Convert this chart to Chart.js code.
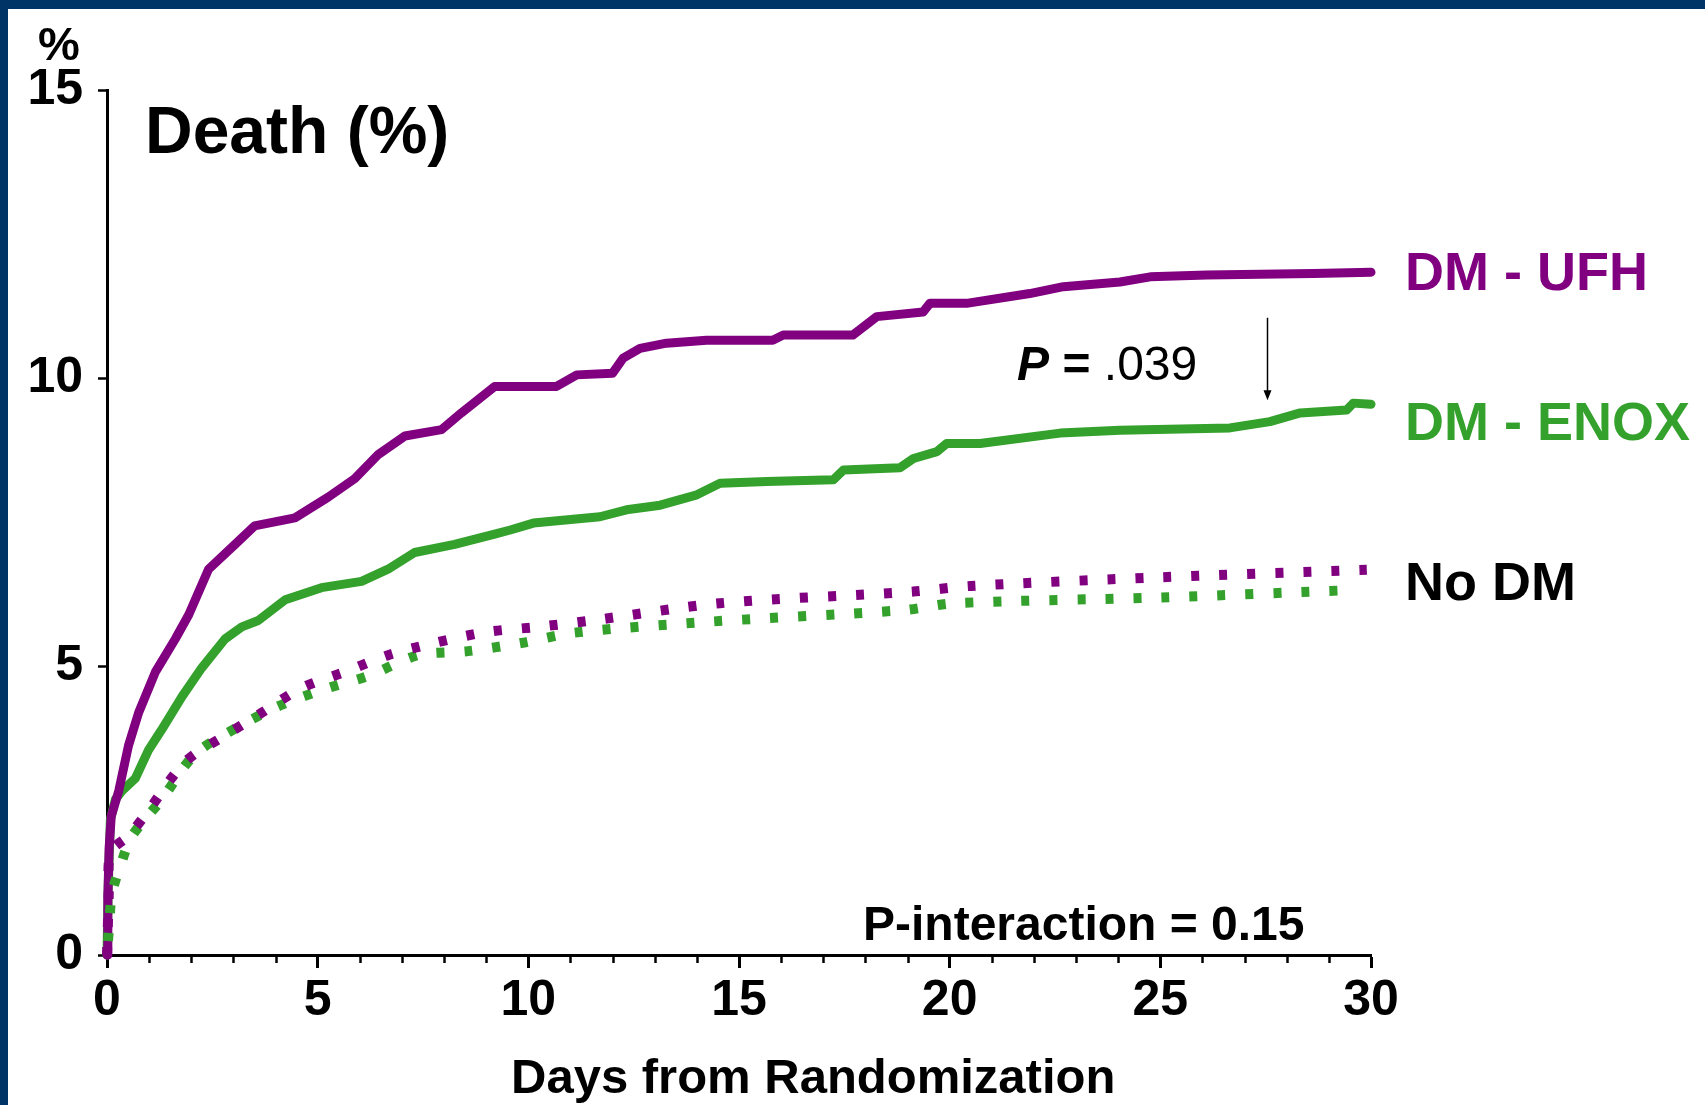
<!DOCTYPE html>
<html>
<head>
<meta charset="utf-8">
<script src="https://cdn.jsdelivr.net/npm/chart.js@4/dist/chart.umd.min.js"></script>
<style>
  html, body { margin: 0; padding: 0; }
  body { width: 1705px; height: 1105px; background: #003366; position: relative; overflow: hidden; }
  #panel { position: absolute; left: 8px; top: 9px; right: 0; bottom: 0; background: #fff; }
  #chart { position: absolute; left: 0; top: 0; }
</style>
</head>
<body>
<div id="panel"></div>
<canvas id="chart" width="1705" height="1105"></canvas>
<script>
// Kaplan-Meier style curves: [day, % dead]
const dmUfh = [
    [0, 0], [0.02, 1.0], [0.05, 1.85], [0.1, 2.4], [0.28, 2.85], [0.51, 3.63], [0.75, 4.2],
    [1.15, 4.91], [1.62, 5.48], [1.94, 5.9], [2.41, 6.69], [3.04, 7.12], [3.5, 7.44], [4.46, 7.58],
    [5.25, 7.94], [5.88, 8.26], [6.44, 8.68], [7.07, 9.0], [7.94, 9.11], [8.41, 9.4], [9.2, 9.86],
    [10.67, 9.86], [11.15, 10.06], [12.0, 10.09], [12.25, 10.35], [12.65, 10.52], [13.28, 10.61],
    [14.23, 10.66], [15.8, 10.66], [16.05, 10.75], [17.7, 10.75], [18.27, 11.07], [19.37, 11.15],
    [19.53, 11.3], [20.4, 11.3], [21.9, 11.47], [22.7, 11.59], [24.04, 11.67], [24.76, 11.76],
    [26.1, 11.79], [28.63, 11.82], [30, 11.84]
];
const dmEnox = [
    [0, 0], [0.03, 1.2], [0.08, 2.35], [0.2, 2.7], [0.36, 2.85], [0.67, 3.06], [0.99, 3.56],
    [1.3, 3.91], [1.78, 4.48], [2.25, 4.98], [2.8, 5.48], [3.2, 5.69], [3.59, 5.8], [4.23, 6.16],
    [5.09, 6.37], [6.04, 6.48], [6.67, 6.69], [7.3, 6.98], [8.25, 7.12], [9.2, 7.3], [9.57, 7.37],
    [10.12, 7.49], [11.7, 7.6], [12.33, 7.72], [13.13, 7.8], [14.0, 7.98], [14.55, 8.18],
    [15.66, 8.21], [17.24, 8.24], [17.48, 8.41], [18.82, 8.45], [19.14, 8.61], [19.7, 8.73],
    [19.93, 8.87], [20.72, 8.87], [22.62, 9.05], [24.04, 9.1], [26.65, 9.14], [27.6, 9.25],
    [28.32, 9.4], [29.42, 9.45], [29.58, 9.57], [30, 9.55]
];
const noDmUfh = [
    [0, 0], [0.04, 1.0], [0.08, 1.78], [0.5, 2.06], [0.9, 2.42], [1.86, 3.35], [2.88, 3.84],
    [3.67, 4.2], [4.62, 4.63], [5.65, 4.91], [6.67, 5.2], [7.77, 5.41], [9.0, 5.6], [10.23, 5.69],
    [11.5, 5.8], [14.55, 6.1], [19.1, 6.3], [20.5, 6.4], [25, 6.55], [29.9, 6.68]
];
const noDmEnox = [
    [0, 0], [0.05, 0.5], [0.12, 1.07], [0.36, 1.64], [0.59, 2.06], [1.3, 2.7], [2.1, 3.49],
    [3.2, 3.99], [4.15, 4.34], [5.25, 4.63], [6.2, 4.84], [7.39, 5.2], [8.57, 5.27], [9.83, 5.41],
    [11.1, 5.59], [14.3, 5.78], [18.9, 5.98], [20.1, 6.1], [25, 6.2], [29.6, 6.33]
];

const xTicks = [0, 5, 10, 15, 20, 25, 30];
const yTicks = [0, 5, 10, 15];
const seriesLabels = ['DM - UFH', 'DM - ENOX', 'No DM'];

const PURPLE = '#800080';
const GREEN = '#33a12b';
const FONT = '"Liberation Sans", Arial, sans-serif';

function toXY(arr) {
    return arr.map(p => ({ x: p[0], y: p[1] }));
}

// text, arrow and minor ticks drawn over the chart
const overlay = {
    id: 'overlay',
    afterDraw(chart) {
        const ctx = chart.ctx;
        const xs = chart.scales.x;
        const ys = chart.scales.y;
        const area = chart.chartArea;
        ctx.save();

        // minor day ticks
        ctx.strokeStyle = '#000';
        ctx.lineWidth = 2.5;
        for (let d = 1; d < 30; d++) {
            if (d % 5 === 0) continue;
            const px = Math.round(xs.getPixelForValue(d)) + 0.5;
            ctx.beginPath();
            ctx.moveTo(px, area.bottom);
            ctx.lineTo(px, area.bottom + 8);
            ctx.stroke();
        }

        ctx.textBaseline = 'alphabetic';
        ctx.fillStyle = '#000';

        // "%" over the y tick labels
        ctx.font = 'bold 47px ' + FONT;
        ctx.textAlign = 'center';
        ctx.fillText('%', 59, 60);

        // panel title
        ctx.textAlign = 'left';
        ctx.font = 'bold 66px ' + FONT;
        ctx.fillText('Death (%)', 145, 153);

        // series labels at the right end of the curves
        ctx.font = 'bold 54px ' + FONT;
        const lx = area.right + 34;
        ctx.fillStyle = PURPLE;
        ctx.fillText(seriesLabels[0], lx, 290);
        ctx.fillStyle = GREEN;
        ctx.fillText(seriesLabels[1], lx, 440);
        ctx.fillStyle = '#000';
        ctx.fillText(seriesLabels[2], lx, 600);

        // P value between DM curves
        let px = xs.getPixelForValue(21.6);
        const py = ys.getPixelForValue(9.97);
        ctx.font = 'italic bold 48px ' + FONT;
        ctx.fillText('P', px, py);
        px += ctx.measureText('P ').width;
        ctx.font = 'bold 48px ' + FONT;
        ctx.fillText('=', px, py);
        px += ctx.measureText('= ').width;
        ctx.font = '48px ' + FONT;
        ctx.fillText('.039', px, py);

        // arrow
        const ax = Math.round(xs.getPixelForValue(27.53)) + 0.5;
        const ay1 = ys.getPixelForValue(11.05);
        const ay2 = ys.getPixelForValue(9.62);
        ctx.lineWidth = 1.5;
        ctx.beginPath();
        ctx.moveTo(ax, ay1);
        ctx.lineTo(ax, ay2 - 8);
        ctx.stroke();
        ctx.beginPath();
        ctx.moveTo(ax - 4, ay2 - 10);
        ctx.lineTo(ax + 4, ay2 - 10);
        ctx.lineTo(ax, ay2);
        ctx.closePath();
        ctx.fill();

        // interaction p
        ctx.font = 'bold 48px ' + FONT;
        ctx.fillText('P-interaction = 0.15', 863, 940);

        // x axis title
        ctx.font = 'bold 49px ' + FONT;
        ctx.fillText('Days from Randomization', 511, 1093);

        ctx.restore();
    }
};

const ctx = document.getElementById('chart').getContext('2d');
new Chart(ctx, {
    type: 'line',
    data: {
        datasets: [
            {
                label: 'No DM - UFH',
                data: toXY(noDmUfh),
                borderColor: PURPLE,
                borderWidth: 10,
                borderDash: [8, 20],
                borderCapStyle: 'butt',
                pointRadius: 0,
                tension: 0.3
            },
            {
                label: 'No DM - ENOX',
                data: toXY(noDmEnox),
                borderColor: GREEN,
                borderWidth: 10,
                borderDash: [8, 20],
                borderDashOffset: 14,
                borderCapStyle: 'butt',
                pointRadius: 0,
                tension: 0.3
            },
            {
                label: 'DM - UFH',
                data: toXY(dmUfh),
                borderColor: PURPLE,
                borderWidth: 9,
                borderJoinStyle: 'round',
                borderCapStyle: 'round',
                pointRadius: 0
            },
            {
                label: 'DM - ENOX',
                data: toXY(dmEnox),
                borderColor: GREEN,
                borderWidth: 9,
                borderJoinStyle: 'round',
                borderCapStyle: 'round',
                pointRadius: 0
            }
        ]
    },
    options: {
        responsive: false,
        animation: false,
        clip: false,
        layout: { padding: { left: 0, top: 90, right: 334, bottom: 0 } },
        plugins: {
            legend: { display: false },
            tooltip: { enabled: false },
            title: { display: false }
        },
        scales: {
            x: {
                type: 'linear',
                min: 0,
                max: 30,
                afterBuildTicks: scale => { scale.ticks = xTicks.map(v => ({ value: v })); },
                afterFit: scale => { scale.height = 150; },
                border: { display: true, color: '#000', width: 3 },
                grid: { drawOnChartArea: false, tickLength: 13, tickWidth: 3, tickColor: '#000' },
                ticks: {
                    color: '#000',
                    padding: 3,
                    maxRotation: 0,
                    font: { family: FONT, size: 50, weight: 'bold' }
                }
            },
            y: {
                type: 'linear',
                min: 0,
                max: 15,
                afterBuildTicks: scale => { scale.ticks = yTicks.map(v => ({ value: v })); },
                afterFit: scale => { scale.width = 107; },
                border: { display: true, color: '#000', width: 3 },
                grid: { drawOnChartArea: false, tickLength: 9, tickWidth: 2.5, tickColor: '#000' },
                ticks: {
                    color: '#000',
                    padding: 15,
                    font: { family: FONT, size: 50, weight: 'bold' }
                }
            }
        }
    },
    plugins: [overlay]
});
</script>
</body>
</html>
